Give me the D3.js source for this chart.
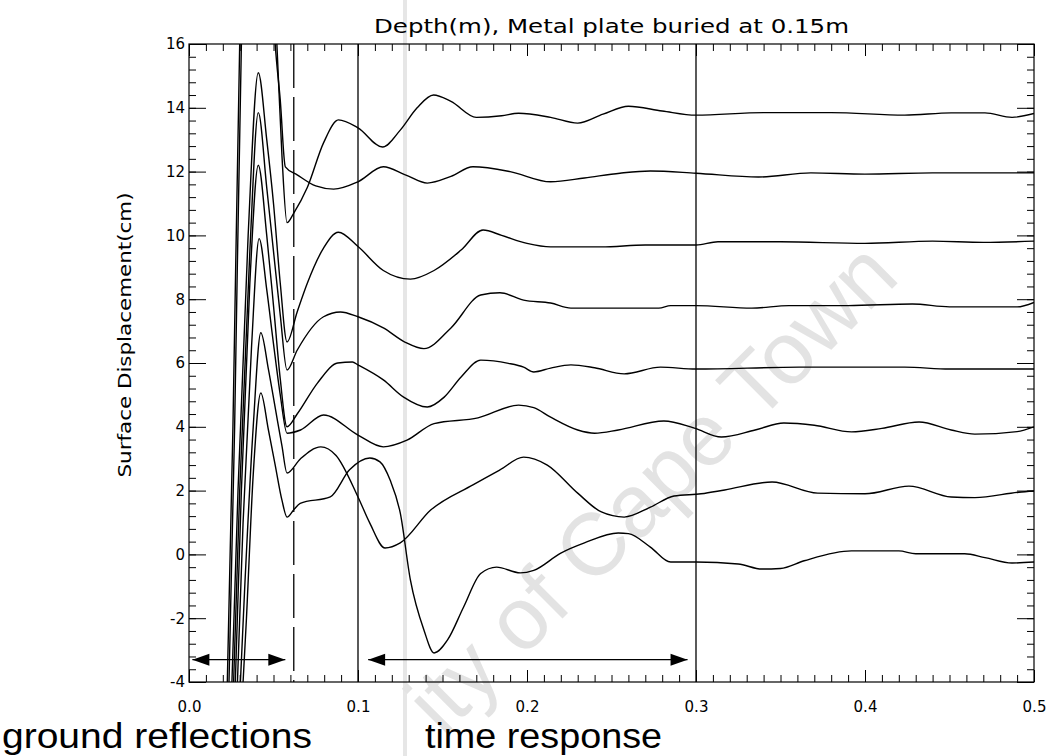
<!DOCTYPE html>
<html>
<head>
<meta charset="utf-8">
<script src="https://cdn.jsdelivr.net/npm/d3@7"></script>
<style>
  body { margin: 0; background: #fff; }
  svg { display: block; }
</style>
</head>
<body>
<script>
// surface displacement traces, one per depth, [time (s), displacement (cm)]
var traceA = [[0.021,-8],[0.026,4],[0.030,16],[0.036,23],[0.042,24],[0.048,20],[0.052,16],[0.055,12.5],[0.058,10.4],[0.062,10.7],[0.070,11.5],[0.0796,12.9],[0.0884,13.62],[0.1,13.37],[0.1145,12.77],[0.125,13.3],[0.135,14.0],[0.1447,14.4],[0.155,14.2],[0.17,13.7],[0.185,13.75],[0.195,13.83],[0.214,13.7],[0.23,13.52],[0.245,13.8],[0.26,14.05],[0.28,13.9],[0.3,13.77],[0.34,13.85],[0.38,13.85],[0.4235,13.77],[0.451,13.84],[0.471,13.84],[0.487,13.7],[0.5,13.82]];
var traceB = [[0.022,-8],[0.027,4],[0.031,16],[0.037,22],[0.043,22.5],[0.048,19],[0.051,16],[0.054,14.24],[0.057,12.15],[0.064,11.9],[0.075,11.55],[0.0856,11.45],[0.1,11.68],[0.115,12.15],[0.128,11.9],[0.141,11.64],[0.155,11.85],[0.168,12.15],[0.19,12.0],[0.214,11.68],[0.234,11.8],[0.255,11.95],[0.273,12.02],[0.3,11.95],[0.337,11.83],[0.368,11.96],[0.4,11.92],[0.44,11.96],[0.483,11.96],[0.5,11.96]];
var traceC = [[0.023,-8],[0.029,2],[0.035,10],[0.041,15.1],[0.046,13],[0.050,11],[0.054,8.5],[0.058,6.66],[0.064,7.6],[0.070,8.5],[0.0796,9.6],[0.0884,10.1],[0.1,9.65],[0.115,8.9],[0.131,8.63],[0.145,8.9],[0.161,9.54],[0.174,10.17],[0.185,10.0],[0.2,9.75],[0.214,9.64],[0.244,9.64],[0.27,9.7],[0.3,9.7],[0.313,9.8],[0.35,9.8],[0.4,9.75],[0.44,9.82],[0.47,9.78],[0.5,9.82]];
var traceD = [[0.024,-8],[0.030,2],[0.036,9.5],[0.041,13.85],[0.046,11.5],[0.050,9.5],[0.054,7.5],[0.058,5.78],[0.064,6.4],[0.0796,7.45],[0.0896,7.6],[0.1,7.45],[0.115,7.1],[0.128,6.65],[0.139,6.45],[0.155,7.1],[0.1726,8.13],[0.184,8.2],[0.198,7.97],[0.214,7.88],[0.226,7.72],[0.25,7.72],[0.278,7.72],[0.285,7.8],[0.3,7.8],[0.333,7.72],[0.355,7.8],[0.39,7.8],[0.428,7.85],[0.45,7.76],[0.49,7.76],[0.5,7.9]];
var traceE = [[0.025,-8],[0.031,2],[0.036,8.5],[0.041,12.2],[0.046,10],[0.050,7.8],[0.054,5.5],[0.058,4.0],[0.064,4.4],[0.076,5.37],[0.088,6.0],[0.0967,6.03],[0.1,5.94],[0.115,5.47],[0.127,4.93],[0.141,4.62],[0.151,4.93],[0.161,5.56],[0.1726,6.09],[0.189,5.99],[0.198,5.87],[0.204,5.72],[0.214,5.84],[0.226,5.94],[0.24,5.85],[0.2575,5.66],[0.279,5.87],[0.3,5.81],[0.361,5.87],[0.4235,5.87],[0.45,5.81],[0.5,5.81]];
var traceF = [[0.026,-8],[0.032,1],[0.037,6.5],[0.0415,9.9],[0.046,8.3],[0.050,6.6],[0.054,5.0],[0.058,3.8],[0.066,3.9],[0.0796,4.37],[0.1,3.74],[0.115,3.37],[0.129,3.58],[0.145,4.1],[0.171,4.28],[0.195,4.68],[0.204,4.6],[0.214,4.3],[0.23,3.9],[0.24,3.8],[0.254,3.9],[0.281,4.18],[0.299,3.96],[0.315,3.68],[0.335,3.9],[0.352,4.12],[0.37,4.05],[0.392,3.84],[0.41,3.95],[0.432,4.15],[0.451,3.9],[0.465,3.77],[0.49,3.85],[0.5,4.0]];
var traceG = [[0.027,-8],[0.033,-1],[0.038,4],[0.0425,6.95],[0.047,5.8],[0.051,4.6],[0.055,3.4],[0.058,2.55],[0.066,3.0],[0.078,3.37],[0.087,3.1],[0.1,1.8],[0.107,0.98],[0.116,0.2],[0.125,0.36],[0.143,1.39],[0.168,2.18],[0.184,2.65],[0.198,3.05],[0.212,2.8],[0.23,1.92],[0.244,1.33],[0.2575,1.17],[0.273,1.48],[0.287,1.83],[0.303,1.9],[0.317,2.02],[0.345,2.27],[0.372,1.92],[0.4,1.9],[0.426,2.14],[0.451,1.8],[0.465,1.78],[0.491,1.95],[0.5,1.99]];
var traceH = [[0.028,-8],[0.034,-2],[0.038,2.5],[0.0425,5.06],[0.047,3.9],[0.051,2.8],[0.055,1.7],[0.058,1.17],[0.062,1.4],[0.0658,1.6],[0.0836,1.8],[0.095,2.65],[0.107,3.02],[0.113,2.9],[0.119,2.33],[0.125,1.3],[0.131,-0.8],[0.139,-2.37],[0.145,-3.09],[0.153,-2.68],[0.1625,-1.65],[0.1726,-0.6],[0.182,-0.4],[0.196,-0.58],[0.204,-0.5],[0.22,0.04],[0.234,0.36],[0.254,0.67],[0.26,0.65],[0.273,0.23],[0.285,-0.24],[0.3,-0.24],[0.325,-0.3],[0.339,-0.46],[0.35,-0.44],[0.364,-0.2],[0.392,0.11],[0.42,0.11],[0.43,0.02],[0.459,0.02],[0.471,-0.1],[0.487,-0.27],[0.5,-0.24]];
var traces = [traceA, traceB, traceC, traceD, traceE, traceF, traceG, traceH];

// markers: dashed line, solid lines, arrows [from, to, level]
var dashedTimes = [0.062];
var solidTimes = [0.1, 0.3];
var arrows = [[0.002, 0.057, -3.3], [0.106, 0.295, -3.3]];

var xTicks = [0.0, 0.1, 0.2, 0.3, 0.4, 0.5];
var yTicks = [-4, -2, 0, 2, 4, 6, 8, 10, 12, 14, 16];

var title = "Depth(m), Metal plate buried at 0.15m";
var yTitle = "Surface Displacement(cm)";
var bottomLabels = ["ground reflections", "time response"];
var watermark = "ity of Cape Town";

window.onload = function(){
    drawChart();
};

function drawChart(){
    var svg = d3.select("body").append("svg").attr("width", 1051).attr("height", 756);

    var margin = {top: 44, left: 189};
    var w = 845;
    var h = 638;
    var tickFont = "'DejaVu Sans', sans-serif";

    var xScale = d3.scaleLinear().domain([0, 0.5]).range([0, w]);
    var yScale = d3.scaleLinear().domain([-4, 16]).range([h, 0]);

    // scanner stripe + watermark behind everything
    svg.append("rect")
        .attr("x", 403).attr("y", 0).attr("width", 4).attr("height", 756)
        .attr("fill", "#e6e6e6");

    svg.append("g")
        .attr("transform", "translate(592,545) rotate(-45)")
        .append("text")
        .attr("x", -242).attr("y", 31)
        .attr("font-family", "'Liberation Sans', Arial, sans-serif")
        .attr("font-size", 88)
        .attr("fill", "#e3e3e3")
        .text(watermark);

    var g = svg.append("g").attr("transform", "translate(" + margin.left + "," + margin.top + ")");

    g.append("clipPath").attr("id", "plotclip")
        .append("rect").attr("width", w).attr("height", h);

    // minor ticks
    var xMinor = d3.range(0, 51).map(function(i){ return i / 100; });
    var yMinor = d3.range(0, 51).map(function(i){ return -4 + i * 0.4; });

    g.append("g").attr("transform", "translate(0," + h + ")")
        .call(d3.axisBottom(xScale).tickValues(xMinor).tickSize(-7).tickFormat(""));
    g.append("g")
        .call(d3.axisTop(xScale).tickValues(xMinor).tickSize(-7).tickFormat(""));
    g.append("g")
        .call(d3.axisLeft(yScale).tickValues(yMinor).tickSize(-7).tickFormat(""));
    g.append("g").attr("transform", "translate(" + w + ",0)")
        .call(d3.axisRight(yScale).tickValues(yMinor).tickSize(-7).tickFormat(""));

    // major ticks with labels
    g.append("g").attr("transform", "translate(0," + h + ")")
        .call(d3.axisBottom(xScale).tickValues(xTicks).tickSize(-12).tickPadding(19)
            .tickFormat(d3.format(".1f")));
    g.append("g")
        .call(d3.axisTop(xScale).tickValues(xTicks).tickSize(-12).tickFormat(""));
    g.append("g")
        .call(d3.axisLeft(yScale).tickValues(yTicks).tickSize(-17).tickPadding(4)
            .tickFormat(function(d){ return String(d); }));
    g.append("g").attr("transform", "translate(" + w + ",0)")
        .call(d3.axisRight(yScale).tickValues(yTicks).tickSize(-17).tickFormat(""));

    g.selectAll(".domain").remove();
    g.selectAll(".tick line").attr("stroke", "#000").attr("stroke-width", 1);
    g.selectAll(".tick text")
        .attr("fill", "#000")
        .style("font-family", tickFont)
        .style("font-size", "15px");

    // frame
    g.append("rect")
        .attr("width", w).attr("height", h)
        .attr("fill", "none").attr("stroke", "#000").attr("stroke-width", 1.2);

    // vertical markers
    g.selectAll(".dashline")
        .data(dashedTimes)
        .enter()
        .append("line")
        .attr("x1", function(d){ return xScale(d); })
        .attr("x2", function(d){ return xScale(d); })
        .attr("y1", 0).attr("y2", h)
        .attr("stroke", "#000").attr("stroke-width", 1.3)
        .attr("stroke-dasharray", "44,9");

    g.selectAll(".solidline")
        .data(solidTimes)
        .enter()
        .append("line")
        .attr("x1", function(d){ return xScale(d); })
        .attr("x2", function(d){ return xScale(d); })
        .attr("y1", 0).attr("y2", h)
        .attr("stroke", "#000").attr("stroke-width", 1.3);

    // traces
    var line = d3.line()
        .x(function(d){ return xScale(d[0]); })
        .y(function(d){ return yScale(d[1]); })
        .curve(d3.curveMonotoneX);

    g.append("g").attr("clip-path", "url(#plotclip)")
        .selectAll(".trace")
        .data(traces)
        .enter()
        .append("path")
        .attr("class", "trace")
        .attr("d", line)
        .attr("fill", "none")
        .attr("stroke", "#000")
        .attr("stroke-width", 1.4);

    // double headed arrows
    var headLen = 17, headHalf = 6;
    arrows.forEach(function(a){
        var x1 = xScale(a[0]), x2 = xScale(a[1]), yy = yScale(a[2]);
        g.append("line")
            .attr("x1", x1).attr("x2", x2).attr("y1", yy).attr("y2", yy)
            .attr("stroke", "#000").attr("stroke-width", 1.4);
        g.append("path")
            .attr("d", "M" + x1 + "," + yy + "L" + (x1 + headLen) + "," + (yy - headHalf) + "L" + (x1 + headLen) + "," + (yy + headHalf) + "Z")
            .attr("fill", "#000");
        g.append("path")
            .attr("d", "M" + x2 + "," + yy + "L" + (x2 - headLen) + "," + (yy - headHalf) + "L" + (x2 - headLen) + "," + (yy + headHalf) + "Z")
            .attr("fill", "#000");
    });

    // title
    svg.append("text")
        .attr("x", margin.left + w / 2)
        .attr("y", 33)
        .attr("text-anchor", "middle")
        .attr("textLength", 475)
        .attr("lengthAdjust", "spacingAndGlyphs")
        .style("font-family", tickFont)
        .style("font-size", "19px")
        .text(title);

    // y axis title
    svg.append("text")
        .attr("transform", "translate(131,335) rotate(-90)")
        .attr("text-anchor", "middle")
        .attr("textLength", 285)
        .attr("lengthAdjust", "spacingAndGlyphs")
        .style("font-family", tickFont)
        .style("font-size", "18px")
        .text(yTitle);

    // bottom annotations
    svg.append("text")
        .attr("x", 2).attr("y", 748)
        .attr("textLength", 310)
        .attr("lengthAdjust", "spacingAndGlyphs")
        .style("font-family", "'Liberation Sans', Arial, sans-serif")
        .style("font-size", "35px")
        .text(bottomLabels[0]);

    svg.append("text")
        .attr("x", 425).attr("y", 748)
        .attr("textLength", 237)
        .attr("lengthAdjust", "spacingAndGlyphs")
        .style("font-family", "'Liberation Sans', Arial, sans-serif")
        .style("font-size", "35px")
        .text(bottomLabels[1]);
}
</script>
</body>
</html>
